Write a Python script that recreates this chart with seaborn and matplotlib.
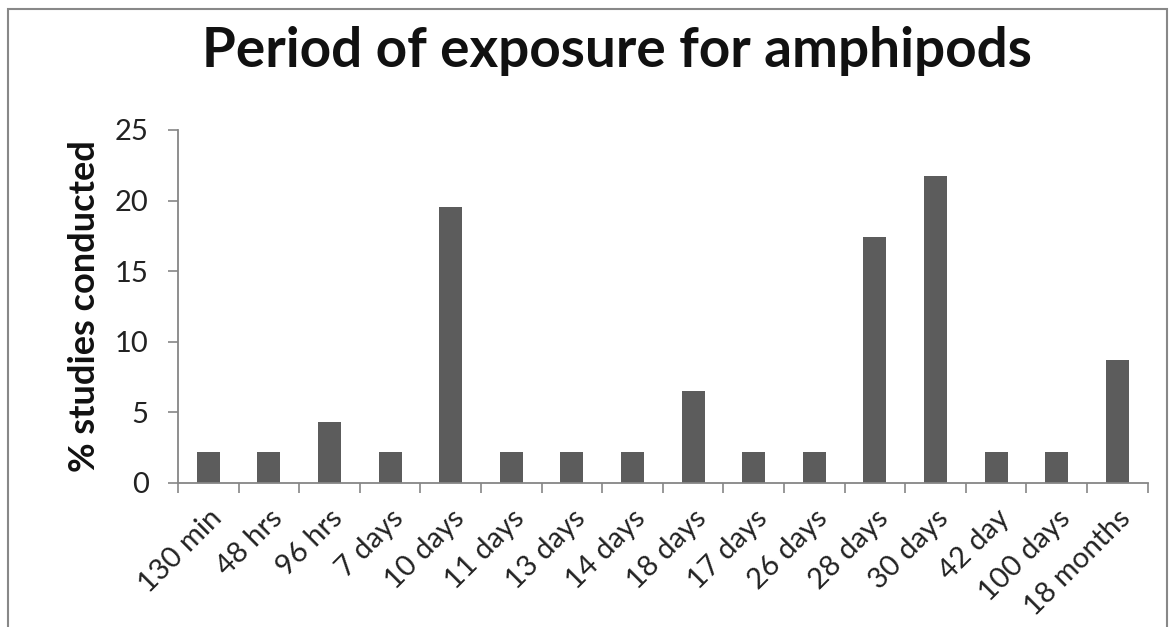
import matplotlib
matplotlib.use("Agg")
import matplotlib.pyplot as plt
import seaborn as sns
import pandas as pd
from matplotlib.patches import Rectangle

categories = ["130 min", "48 hrs", "96 hrs", "7 days", "10 days", "11 days", "13 days",
              "14 days", "18 days", "17 days", "26 days", "28 days", "30 days", "42 day",
              "100 days", "18 months"]
values = [2.17, 2.17, 4.35, 2.17, 19.57, 2.17, 2.17, 2.17, 6.52, 2.17, 2.17, 17.39,
          21.74, 2.17, 2.17, 8.70]
yticks = [0, 5, 10, 15, 20, 25]

sns.set_theme(style="white")
plt.rcParams['font.family'] = ['Lato', 'DejaVu Sans']

df = pd.DataFrame({"cat": categories, "val": values})
fig = plt.figure(figsize=(11.71, 6.27), dpi=100)
ax = fig.add_axes([0.152, 0.2297, 0.828, 0.563])
sns.barplot(data=df, x="cat", y="val", color="#5c5c5c", saturation=1, width=0.38, ax=ax)
for p in ax.patches:
    p.set_edgecolor("none")

ax.set_xlim(-0.5, len(categories) - 0.5)
ax.set_ylim(0, 25)
ax.set_yticks(yticks)
ax.set_yticklabels([str(t) for t in yticks], fontsize=21, color="#222222")
ax.set_xticks(range(len(categories)))
ax.set_xticklabels(categories, rotation=45, ha="right", rotation_mode="anchor",
                   fontsize=21, color="#222222")
ax.set_xticks([i - 0.5 for i in range(len(categories) + 1)], minor=True)
ax.tick_params(axis="x", which="major", length=0, pad=16)
ax.tick_params(axis="x", which="minor", length=7, width=1.2, color="#868686", direction="out", bottom=True)
ax.tick_params(axis="y", length=7, width=1.2, color="#868686", direction="out", left=True, pad=14)

for s in ["top", "right"]:
    ax.spines[s].set_visible(False)
for s in ["left", "bottom"]:
    ax.spines[s].set_color("#868686")
    ax.spines[s].set_linewidth(1.3)

ax.set_xlabel("")
ax.set_ylabel("% studies conducted", fontsize=26, fontweight="bold", color="#111111", labelpad=10)
fig.text(0.527, 0.918, "Period of exposure for amphipods", ha="center", va="center",
         fontsize=39.5, fontweight="bold", color="#111111")

fig.patches.append(Rectangle((0.007, -0.01), 0.99, 0.995, transform=fig.transFigure,
                             fill=False, edgecolor="#888888", linewidth=1.5))

fig.savefig("out.png", dpi=100)
